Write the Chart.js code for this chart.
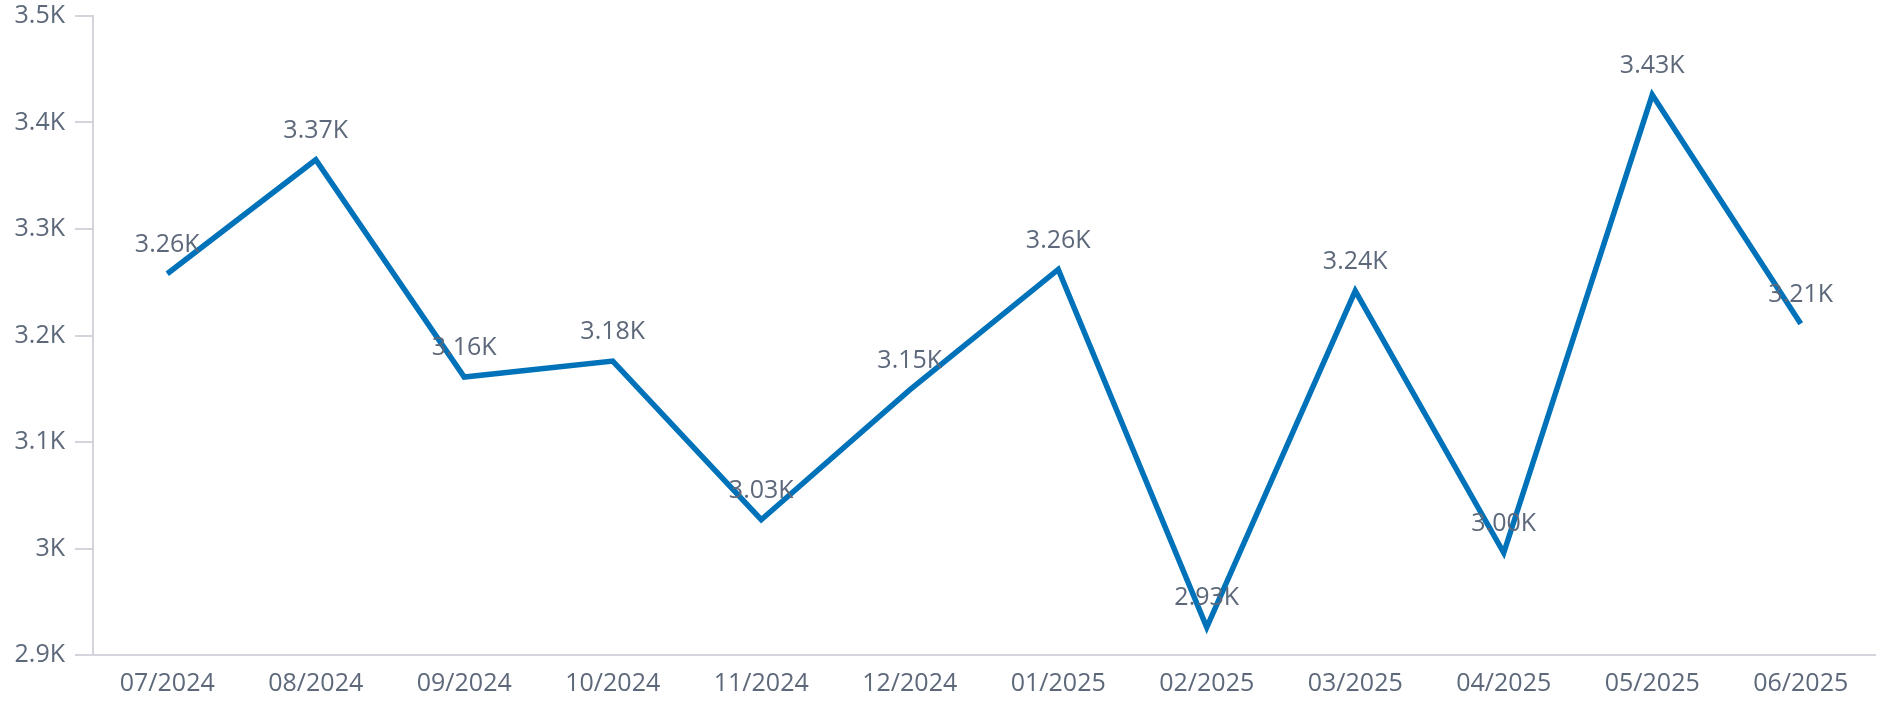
<!DOCTYPE html>
<html>
<head>
<meta charset="utf-8">
<script src="https://cdn.jsdelivr.net/npm/chart.js@4"></script>
<style>
  html, body { margin: 0; padding: 0; background: #fff; }
  #wrap { width: 1879px; height: 705px; }
</style>
</head>
<body>
<div id="wrap"><canvas id="grafica"></canvas></div>
<script>
// datos
var meses = ["07/2024", "08/2024", "09/2024", "10/2024", "11/2024", "12/2024",
             "01/2025", "02/2025", "03/2025", "04/2025", "05/2025", "06/2025"];
var valores = [3258, 3365, 3161, 3176, 3027, 3149, 3262, 2926, 3242, 2996, 3426, 3211];
var ticksY = [2900, 3000, 3100, 3200, 3300, 3400, 3500];

var colorTexto = "#5d687a";
var colorEje = "#d4d4dc";
var fuente = "'Open Sans', sans-serif";

function formatoK(v, dec) {
    var k = v / 1000;
    return (dec ? k.toFixed(dec) : String(Math.round(k * 10) / 10)) + "K";
}

// etiquetas encima de cada punto
var etiquetas = {
    id: "etiquetas",
    afterDatasetsDraw: function(chart) {
        var ctx = chart.ctx;
        var meta = chart.getDatasetMeta(0);
        ctx.save();
        ctx.font = "25px " + fuente;
        ctx.fillStyle = colorTexto;
        ctx.textAlign = "center";
        ctx.textBaseline = "middle";
        meta.data.forEach(function(p, i) {
            ctx.fillText(formatoK(valores[i], 2), p.x, p.y - 29);
        });
        ctx.restore();
    }
};

var ctx = document.getElementById("grafica");
var grafica = new Chart(ctx, {
    type: "line",
    data: {
        labels: meses,
        datasets: [{
            data: valores,
            borderColor: "#0072b9",
            borderWidth: 5.5,
            pointRadius: 0,
            tension: 0,
            fill: false
        }]
    },
    options: {
        responsive: true,
        maintainAspectRatio: false,
        animation: false,
        layout: { padding: { top: 16, right: 4, left: 0, bottom: 0 } },
        plugins: { legend: { display: false }, tooltip: { enabled: false } },
        scales: {
            x: {
                offset: true,
                grid: { display: false, drawTicks: false },
                border: { display: true, color: colorEje, width: 2 },
                ticks: { color: colorTexto, font: { family: fuente, size: 25 }, padding: 14, maxRotation: 0 },
                afterFit: function(s) { s.height = 50; }
            },
            y: {
                min: 2900,
                max: 3500,
                afterBuildTicks: function(s) { s.ticks = ticksY.map(function(v) { return { value: v }; }); },
                grid: { drawOnChartArea: false, drawTicks: true, tickLength: 18, color: colorEje, lineWidth: 2 },
                border: { display: true, color: colorEje, width: 2 },
                ticks: {
                    color: colorTexto,
                    font: { family: fuente, size: 25 },
                    padding: 10,
                    callback: function(v) { return formatoK(v); }
                },
                afterFit: function(s) {
                    s.width = 93;
                    s.paddingTop = 0;
                    s.paddingBottom = 0;
                }
            }
        }
    },
    plugins: [etiquetas]
});
</script>
</body>
</html>
